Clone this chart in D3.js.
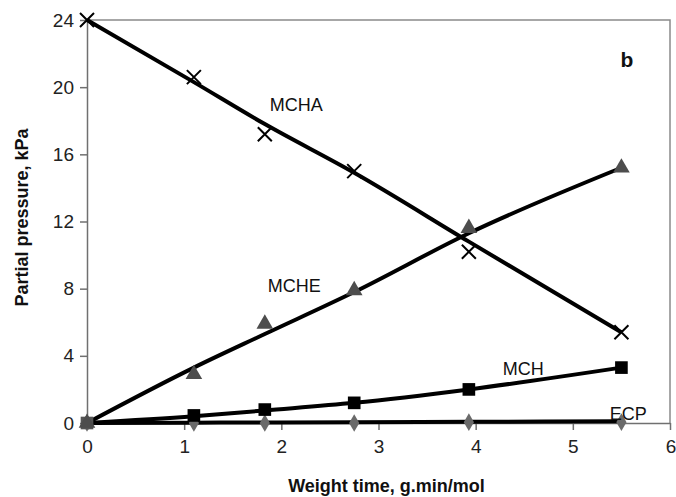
<!DOCTYPE html>
<html>
<head>
<meta charset="utf-8">
<script src="https://cdn.jsdelivr.net/npm/d3@7"></script>
<style>
  body { margin: 0; background: #fff; }
  text { font-family: "Liberation Sans", Arial, sans-serif; }
</style>
</head>
<body>
<div id="app"></div>
<script>
// data
var weightTime = [0, 1.1, 1.83, 2.75, 3.93, 5.5];
var mcha = [24, 20.6, 17.2, 15.0, 10.2, 5.4];
var mche = [0, 2.9, 5.9, 7.9, 11.6, 15.2];
var mch = [0, 0.45, 0.8, 1.2, 2.0, 3.3];
var ecp = [0, 0, 0, 0, 0.05, 0.05];

// fitted (model) curves, read at the same x values
var mchaFit = [24, 20.3, 17.8, 14.9, 10.8, 5.4];
var mcheFit = [0, 3.3, 5.3, 7.8, 11.3, 15.2];
var mchFit = [0, 0.4, 0.75, 1.2, 2.0, 3.3];
var ecpFit = [0, 0.02, 0.03, 0.05, 0.07, 0.1];

var xTicks = [0, 1, 2, 3, 4, 5, 6];
var yTicks = [0, 4, 8, 12, 16, 20, 24];

var margin = {top: 20, right: 6, bottom: 74, left: 87};
var width = 676 - margin.left - margin.right;
var height = 497 - margin.top - margin.bottom;

var x = d3.scaleLinear().domain([0, 6]).range([0, width]);
var y = d3.scaleLinear().domain([0, 24]).range([height, 0]);

var svg = d3.select("#app")
  .append("svg")
    .attr("width", 676)
    .attr("height", 497)
  .append("g")
    .attr("transform", "translate(" + margin.left + "," + margin.top + ")");

// frame (top + right)
svg.append("path")
  .attr("d", "M0,0H" + width + "V" + height)
  .attr("fill", "none")
  .attr("stroke", "#8a8a8a")
  .attr("stroke-width", 1.5);

// x axis
var xAxis = svg.append("g")
  .attr("transform", "translate(0," + height + ")")
  .call(d3.axisBottom(x).tickValues(xTicks).tickFormat(d3.format("d"))
    .tickSize(7).tickSizeOuter(0).tickPadding(10));
// y axis
var yAxis = svg.append("g")
  .call(d3.axisLeft(y).tickValues(yTicks).tickFormat(d3.format("d"))
    .tickSize(7).tickSizeOuter(0).tickPadding(6));

[xAxis, yAxis].forEach(function(a) {
  a.select(".domain").attr("stroke", "#707070").attr("stroke-width", 1.5);
  a.selectAll(".tick line").attr("stroke", "#707070").attr("stroke-width", 1.5);
  a.selectAll(".tick text")
    .attr("font-size", 19)
    .attr("fill", "#222")
    .style("font-family", "'Liberation Sans', Arial, sans-serif");
});
// last x label sits on the edge, pull it in a touch
xAxis.selectAll(".tick text").filter(function(d) { return d === 6; })
  .attr("text-anchor", "end").attr("dx", "0.3em");

// axis titles
svg.append("text")
  .attr("x", x(3) + 8)
  .attr("y", height + 69)
  .attr("text-anchor", "middle")
  .attr("font-size", 18)
  .attr("font-weight", "bold")
  .attr("fill", "#111")
  .text("Weight time, g.min/mol");

svg.append("text")
  .attr("transform", "translate(" + (28 - margin.left) + "," + (height / 2 - 4) + ") rotate(-90)")
  .attr("text-anchor", "middle")
  .attr("font-size", 18)
  .attr("font-weight", "bold")
  .attr("fill", "#111")
  .text("Partial pressure, kPa");

// fit lines
var fitLine = d3.line()
  .x(function(d, i) { return x(weightTime[i]); })
  .y(function(d) { return y(d); })
  .curve(d3.curveMonotoneX);

[ecpFit, mchFit, mcheFit, mchaFit].forEach(function(s) {
  svg.append("path")
    .datum(s)
    .attr("d", fitLine)
    .attr("fill", "none")
    .attr("stroke", "#000")
    .attr("stroke-width", 4);
});

// markers
var sym = function(type, size) { return d3.symbol().type(type).size(size)(); };

svg.append("g").selectAll("path")
  .data(ecp)
  .enter()
    .append("path")
    .attr("d", sym(d3.symbolDiamond, 90))
    .attr("transform", function(d, i) { return "translate(" + x(weightTime[i]) + "," + y(d) + ")"; })
    .attr("fill", "#6a6a6a");

svg.append("g").selectAll("path")
  .data(mch)
  .enter()
    .append("path")
    .attr("d", sym(d3.symbolSquare, 160))
    .attr("transform", function(d, i) { return "translate(" + x(weightTime[i]) + "," + y(d) + ")"; })
    .attr("fill", function(d, i) { return i === 0 ? "#555" : "#000"; });

svg.append("g").selectAll("path")
  .data(mche)
  .enter()
    .append("path")
    .attr("d", sym(d3.symbolTriangle, 120))
    .attr("transform", function(d, i) { return "translate(" + x(weightTime[i]) + "," + y(d) + ")"; })
    .attr("fill", "#4d4d4d");

svg.append("g").selectAll("path")
  .data(mcha)
  .enter()
    .append("path")
    .attr("d", "M-7,-7L7,7M-7,7L7,-7")
    .attr("transform", function(d, i) { return "translate(" + x(weightTime[i]) + "," + y(d) + ")"; })
    .attr("stroke", "#000")
    .attr("stroke-width", 2)
    .attr("fill", "none");

// series labels
var labels = [
  {t: "MCHA", x: 1.88, y: 18.6},
  {t: "MCHE", x: 1.86, y: 7.8},
  {t: "MCH", x: 4.28, y: 2.85},
  {t: "ECP", x: 5.38, y: 0.15}
];
svg.append("g").selectAll("text")
  .data(labels)
  .enter()
    .append("text")
    .attr("x", function(d) { return x(d.x); })
    .attr("y", function(d) { return y(d.y); })
    .attr("font-size", 18)
    .attr("fill", "#111")
    .text(function(d) { return d.t; });

svg.append("text")
  .attr("x", x(5.49))
  .attr("y", y(21.2))
  .attr("font-size", 21)
  .attr("font-weight", "bold")
  .attr("fill", "#111")
  .text("b");
</script>
</body>
</html>
